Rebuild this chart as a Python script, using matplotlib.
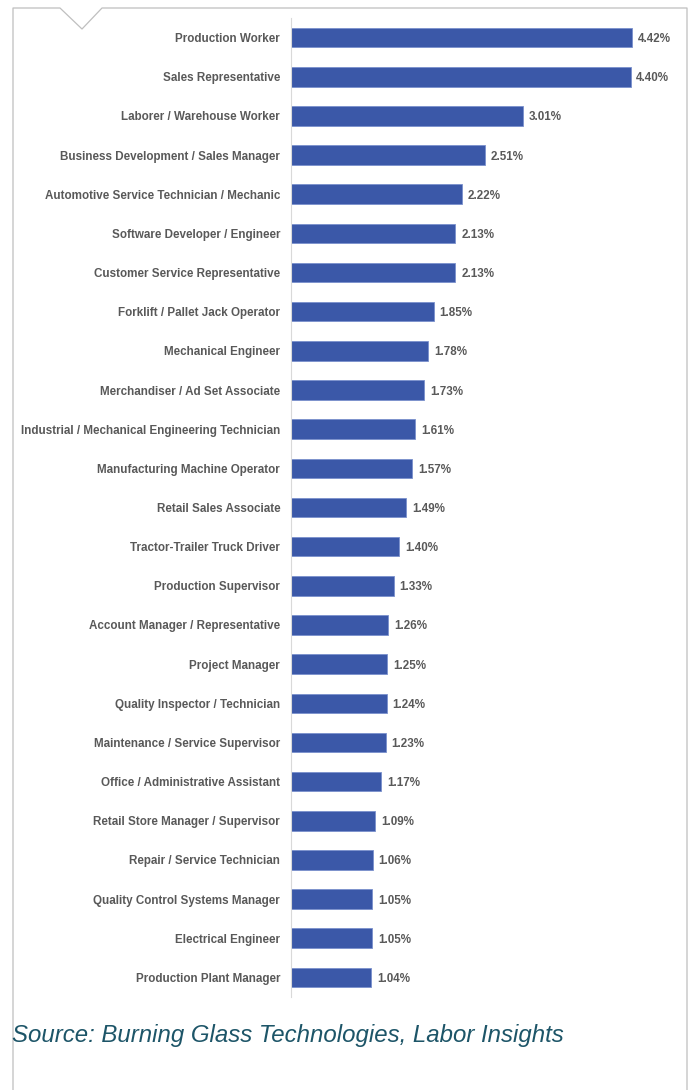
import matplotlib
matplotlib.use("Agg")
import matplotlib.pyplot as plt
from matplotlib.lines import Line2D

categories = [
    "Production Worker", "Sales Representative", "Laborer / Warehouse Worker",
    "Business Development / Sales Manager", "Automotive Service Technician / Mechanic",
    "Software Developer / Engineer", "Customer Service Representative",
    "Forklift / Pallet Jack Operator", "Mechanical Engineer",
    "Merchandiser / Ad Set Associate", "Industrial / Mechanical Engineering Technician",
    "Manufacturing Machine Operator", "Retail Sales Associate",
    "Tractor-Trailer Truck Driver", "Production Supervisor",
    "Account Manager / Representative", "Project Manager",
    "Quality Inspector / Technician", "Maintenance / Service Supervisor",
    "Office / Administrative Assistant", "Retail Store Manager / Supervisor",
    "Repair / Service Technician", "Quality Control Systems Manager",
    "Electrical Engineer", "Production Plant Manager",
]
values = [4.42, 4.40, 3.01, 2.51, 2.22, 2.13, 2.13, 1.85, 1.78, 1.73, 1.61, 1.57,
          1.49, 1.40, 1.33, 1.26, 1.25, 1.24, 1.23, 1.17, 1.09, 1.06, 1.05, 1.05, 1.04]
source_text = "Source: Burning Glass Technologies, Labor Insights"

W, H = 691, 1090
fig = plt.figure(figsize=(W / 100, H / 100), dpi=100)
fig.patch.set_facecolor("white")

def fx(px):
    return px / W

def fy(py):
    return 1 - py / H

ax = fig.add_axes([fx(291), fy(997), fx(676.8) - fx(291), fy(18) - fy(997)])
ypos = list(range(len(categories)))
ax.barh(ypos, values, height=0.5, color="#3B58A8", edgecolor="#7A90CC", linewidth=0.6)
ax.set_xlim(0, 5)
ax.set_ylim(len(categories) - 0.5, -0.5)
ax.set_yticks(ypos)
ax.set_yticklabels(categories, fontfamily="Liberation Sans", fontweight="bold",
                   fontsize=8.4, color="#595959")
ax.tick_params(axis="y", length=0, pad=7.8)
ax.set_xticks([])
for s in ["top", "right", "bottom"]:
    ax.spines[s].set_visible(False)
ax.spines["left"].set_color("#D9D9D9")
ax.spines["left"].set_linewidth(0.8)
for y, v in zip(ypos, values):
    ax.text(v + 0.075, y, f"{v:.2f}%", va="center_baseline", ha="left",
            fontfamily="Liberation Sans", fontweight="bold", fontsize=8.4, color="#595959")

# frame with notch
xs = [fx(13), fx(13), fx(60), fx(82), fx(102), fx(687), fx(687)]
ys = [fy(1100), fy(8), fy(8), fy(29), fy(8), fy(8), fy(1100)]
fig.add_artist(Line2D(xs, ys, color="#BFBFBF", linewidth=0.9, transform=fig.transFigure))

fig.text(fx(12), fy(1042), source_text, fontfamily="Liberation Sans", fontstyle="italic",
         fontsize=17.3, color="#1D5568", va="baseline", ha="left")

fig.savefig("out.png", dpi=100)
